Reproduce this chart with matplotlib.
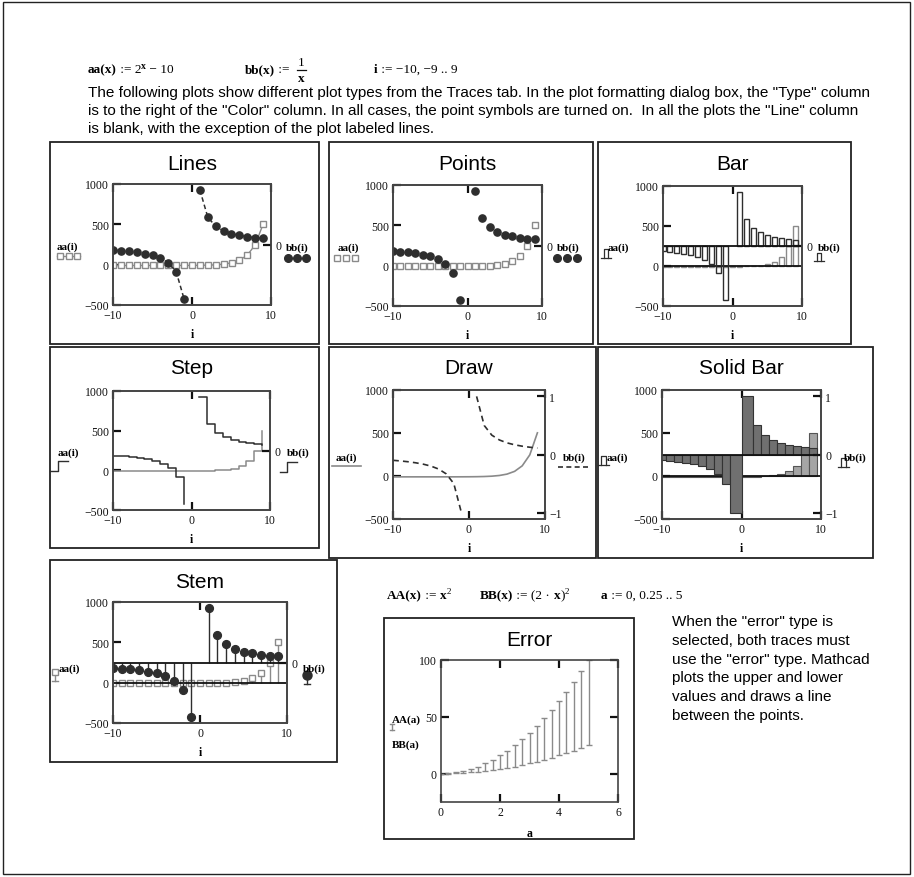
import numpy as np
import matplotlib.pyplot as plt
from matplotlib.patches import Rectangle
from matplotlib.lines import Line2D

plt.rcParams['font.family'] = 'Liberation Serif'

# i := -10, -9 .. 9 ; aa(i) = 2^i - 10 ; bb(i) = 1/i
i = np.array([-10, -9, -8, -7, -6, -5, -4, -3, -2, -1, 0, 1, 2, 3, 4, 5, 6, 7, 8, 9])
aa = np.array([-9.999, -9.998, -9.996, -9.992, -9.984, -9.969, -9.938, -9.875, -9.75, -9.5,
               -9, -8, -6, -2, 6, 22, 54, 118, 246, 502])
bb = np.array([-0.1, -0.111, -0.125, -0.143, -0.167, -0.2, -0.25, -0.333, -0.5, -1,
               np.nan, 1, 0.5, 0.333, 0.25, 0.2, 0.167, 0.143, 0.125, 0.111])

# a := 0, 0.25 .. 5 ; AA(a) = a^2 ; BB(a) = (2a)^2
a = np.array([0, 0.25, 0.5, 0.75, 1, 1.25, 1.5, 1.75, 2, 2.25, 2.5, 2.75, 3, 3.25, 3.5,
              3.75, 4, 4.25, 4.5, 4.75, 5])
AA = np.array([0, 0.0625, 0.25, 0.5625, 1, 1.5625, 2.25, 3.0625, 4, 5.0625, 6.25, 7.5625,
               9, 10.5625, 12.25, 14.0625, 16, 18.0625, 20.25, 22.5625, 25])
BB = np.array([0, 0.25, 1, 2.25, 4, 6.25, 9, 12.25, 16, 20.25, 25, 30.25, 36, 42.25, 49,
               56.25, 64, 72.25, 81, 90.25, 100])

W, H = 914, 878
GRAY = '#8a8a8a'
DARK = '#2e2e2e'
SANS = 'Liberation Sans'

fig = plt.figure(figsize=(W / 100, H / 100), dpi=100)
overlay = fig.add_axes([0, 0, 1, 1])
overlay.set_axis_off()


def px_axes(x0, y0, x1, y1):
    return fig.add_axes([x0 / W, 1 - y1 / H, (x1 - x0) / W, (y1 - y0) / H])


def box(x0, y0, x1, y1, lw=1.3):
    fig.add_artist(Rectangle((x0 / W, 1 - y1 / H), (x1 - x0) / W, (y1 - y0) / H,
                             transform=fig.transFigure, fill=False, lw=lw, ec='#222'))


def ftext(x, y, s, **kw):
    kw.setdefault('ha', 'center')
    kw.setdefault('va', 'center')
    return fig.text(x / W, 1 - y / H, s, **kw)


def glyph(xs, ys, **kw):
    fig.add_artist(Line2D(np.array(xs) / W, 1 - np.array(ys) / H,
                          transform=fig.transFigure, **kw))


def eq(x, y, parts, size=9.5):
    # Mathcad-like equation: pieces placed one after another on a shared baseline
    s0, kw0 = parts[0]
    base = last = overlay.text(x / W, 1 - y / H, s0, size=size, ha='left', va='bottom', **kw0)
    for s, kw in parts[1:]:
        kw = dict(kw)
        up = kw.pop('up', None)
        sz = kw.pop('size', size)
        t = overlay.annotate(s, xy=(1, 0 if up is None else up), xycoords=(last, base),
                             ha='left', va='bottom', size=sz, **kw)
        if up is None:
            base = t
        last = t
    return last


B = {'weight': 'bold'}


def style(axis):
    axis.tick_params(direction='in', length=6, width=1.6, colors='#111',
                     labelsize=8.5, pad=3)
    for s in axis.spines.values():
        s.set_linewidth(1.2)
        s.set_edgecolor('#444')


def panel(bx, ax_px, title, rticks=(0,)):
    box(*bx)
    x0, y0, x1, y1 = ax_px
    ax = px_axes(*ax_px)
    ax.set_xlim(-10, 10)
    ax.set_ylim(-500, 1000)
    ax.set_xticks([-10, 0, 10])
    ax.set_yticks([-500, 0, 500, 1000])
    ax2 = ax.twinx()
    ax2.set_ylim(-1.11, 1.11)
    ax2.set_yticks(list(rticks))
    style(ax)
    style(ax2)
    ax.tick_params(axis='x', top=True)
    ftext((x0 + x1) / 2, bx[1] + 21, title, family=SANS, size=15)
    ftext((x0 + x1) / 2, y1 + 29, 'i', weight='bold', size=8.5)
    return ax, ax2


def bar_edges(x, y):
    left = x - 0.5
    right = x + 0.5
    gap = np.isnan(y)
    left[1:][gap[:-1]] -= 0.5
    right[:-1][gap[1:]] += 0.5
    return left, right - left


ok = ~np.isnan(bb)
neg = i < 0
pos = i > 0

# outer frame
box(3, 3, 910, 875, lw=1)

# header
eq(88, 76, [('aa(x)', B), (' := 2', {}), ('x', dict(B, up=0.45, size=7)), (' \u2212 10', {})])
eq(245, 76, [('bb(x)', B), (' :=', {})])
ftext(301, 63, '1', size=9.5)
glyph([296.5, 305.5], [71, 71], color='#111', lw=0.9)
ftext(301, 79, 'x', size=9.5, weight='bold')
eq(374, 76, [('i', B), (' := \u221210, \u22129 .. 9', {})])
para = ['The following plots show different plot types from the Traces tab. In the plot formatting dialog box, the "Type" column',
        'is to the right of the "Color" column. In all cases, the point symbols are turned on.  In all the plots the "Line" column',
        'is blank, with the exception of the plot labeled lines.']
for k, line in enumerate(para):
    ftext(88, 93 + 18 * k, line, family=SANS, size=11, ha='left')

# ---- Lines
ax, ax2 = panel((50, 143, 319, 345), (113, 185, 271, 306), 'Lines')
ax.plot(i, aa, color=GRAY, lw=1, marker='s', ms=4.6, mfc='white', mec=GRAY)
ax2.plot(i, bb, color=DARK, lw=1.1, ls=(0, (3, 2)), marker='o', ms=5.2, mfc=DARK, mec=DARK)
ftext(67, 247, 'aa(i)', weight='bold', size=8)
glyph([57, 80], [257, 257], color=GRAY, lw=1)
glyph([60, 68.5, 77], [257] * 3, ls='none', marker='s', ms=4.6, mfc='white', mec=GRAY)
ftext(297, 248, 'bb(i)', weight='bold', size=8)
glyph([288, 297, 306], [259] * 3, ls='none', marker='o', ms=5.5, color=DARK)

# ---- Points
ax, ax2 = panel((329, 143, 593, 345), (393, 186, 542, 307), 'Points')
ax.plot(i, aa, ls='none', marker='s', ms=4.6, mfc='white', mec=GRAY)
ax2.plot(i, bb, ls='none', marker='o', ms=5.2, color=DARK)
ftext(348, 248, 'aa(i)', weight='bold', size=8)
glyph([337, 346, 355], [259] * 3, ls='none', marker='s', ms=4.6, mfc='white', mec=GRAY)
ftext(568, 248, 'bb(i)', weight='bold', size=8)
glyph([557, 567, 577], [259] * 3, ls='none', marker='o', ms=5.5, color=DARK)

# ---- Bar
ax, ax2 = panel((598, 143, 851, 345), (663, 187, 802, 307), 'Bar')
ax.bar(i, aa, width=0.72, facecolor='none', edgecolor=GRAY, lw=1)
ax.axhline(0, color='#111', lw=1.3)
ax2.bar(i[ok], bb[ok], width=0.72, facecolor='none', edgecolor=DARK, lw=1)
ax2.axhline(0, color='#111', lw=1.3)
ftext(618, 248, 'aa(i)', weight='bold', size=8)
glyph([604, 604, 608, 608], [259, 250, 250, 259], color=DARK, lw=0.9)
glyph([601, 611], [259, 259], color=DARK, lw=0.9)
ftext(829, 248, 'bb(i)', weight='bold', size=8)
glyph([817, 817, 821, 821], [262, 254, 254, 262], color=DARK, lw=0.9)
glyph([814, 824], [262, 262], color=DARK, lw=0.9)

# ---- Step
ax, ax2 = panel((50, 348, 319, 549), (113, 392, 270, 511), 'Step')
ax.step(i, aa, where='post', color=GRAY, lw=1.1)
ax2.step(i[neg], bb[neg], where='post', color=DARK, lw=1.1)
ax2.step(i[pos], bb[pos], where='post', color=DARK, lw=1.1)
ftext(68, 453, 'aa(i)', weight='bold', size=8)
glyph([50, 58, 58, 68], [472, 472, 462, 462], color=DARK, lw=1)
ftext(298, 453, 'bb(i)', weight='bold', size=8)
glyph([280, 287, 287, 297], [473, 473, 463, 463], color=DARK, lw=1)

# ---- Draw
ax, ax2 = panel((329, 348, 596, 559), (393, 391, 545, 520), 'Draw', rticks=(-1, 0, 1))
ax.plot(i, aa, color=GRAY, lw=1.2)
ax2.plot(i, bb, color=DARK, lw=1.2, ls=(0, (3.5, 2.5)))
ftext(346, 458, 'aa(i)', weight='bold', size=8)
glyph([332, 361], [467, 467], color=GRAY, lw=1.2)
ftext(574, 458, 'bb(i)', weight='bold', size=8)
glyph([558, 590], [468, 468], color=DARK, lw=1.2, ls=(0, (3, 2)))

# ---- Solid Bar
ax, ax2 = panel((598, 348, 873, 559), (662, 391, 821, 520), 'Solid Bar', rticks=(-1, 0, 1))
ax.bar(i, aa, width=1, color='#a5a5a5', edgecolor='#555', lw=0.8)
ax.axhline(0, color='#111', lw=1.3)
bl, bw = bar_edges(i.astype(float), bb)
ax2.bar(bl[ok], bb[ok], width=bw[ok], align='edge', color='#707070', edgecolor='#333', lw=0.8)
ax2.axhline(0, color='#111', lw=1.3)
ftext(617, 458, 'aa(i)', weight='bold', size=8)
glyph([601, 601, 606, 606], [466, 457, 457, 466], color=DARK, lw=0.9)
glyph([598, 609], [466, 466], color=DARK, lw=0.9)
ftext(855, 458, 'bb(i)', weight='bold', size=8)
glyph([841, 841, 846, 846], [468, 459, 459, 468], color=DARK, lw=0.9)
glyph([838, 849], [468, 468], color=DARK, lw=0.9)

# ---- Stem
ax, ax2 = panel((50, 561, 337, 763), (113, 603, 287, 724), 'Stem')
ax.vlines(i, 0, aa, color=GRAY, lw=1)
ax.plot(i, aa, ls='none', marker='s', ms=5, mfc='white', mec=GRAY)
ax.axhline(0, color='#111', lw=1.3)
ax2.vlines(i[ok], 0, bb[ok], color=DARK, lw=1)
ax2.plot(i, bb, ls='none', marker='o', ms=5.6, color=DARK)
ax2.axhline(0, color='#111', lw=1.3)
ftext(69, 669, 'aa(i)', weight='bold', size=8)
glyph([55, 55], [673, 682], color=GRAY, lw=1)
glyph([52, 58], [682, 682], color=GRAY, lw=1)
glyph([55], [673], ls='none', marker='s', ms=4.5, mfc='white', mec=GRAY)
ftext(314, 669, 'bb(i)', weight='bold', size=8)
glyph([307, 307], [676, 685], color=DARK, lw=1)
glyph([304, 310], [685, 685], color=DARK, lw=1)
glyph([307], [676], ls='none', marker='o', ms=6.5, color=DARK)

# ---- Error
eq(387, 602, [('AA(x)', B), (' := ', {}), ('x', B), ('2', dict(up=0.5, size=6.5))])
eq(480, 602, [('BB(x)', B), (' := (2 \u00b7 ', {}), ('x', B), (')', {}), ('2', dict(up=0.5, size=6.5))])
eq(601, 602, [('a', B), (' := 0, 0.25 .. 5', {})])
box(384, 619, 634, 840)
ax = px_axes(441, 661, 618, 803)
ax.set_xlim(0, 6)
ax.set_ylim(-25, 100)
ax.set_xticks([0, 2, 4, 6])
ax.set_yticks([0, 50, 100])
style(ax)
ax.tick_params(top=True, right=True)
ax.errorbar(a, AA, yerr=[np.zeros_like(AA), BB - AA], fmt='none', ecolor=GRAY,
            elinewidth=1, capsize=2, capthick=1)
ftext(529.5, 640, 'Error', family=SANS, size=15)
ftext(529.5, 834, 'a', weight='bold', size=8.5)
ftext(406, 720, 'AA(a)', weight='bold', size=8)
glyph([392, 392], [725, 731], color=GRAY, lw=1)
glyph([390, 394], [725, 725], color=GRAY, lw=1)
glyph([390, 394], [731, 731], color=GRAY, lw=1)
ftext(406, 745, 'BB(a)', weight='bold', size=8)

note = ['When the "error" type is', 'selected, both traces must',
        'use the "error" type. Mathcad', 'plots the upper and lower',
        'values and draws a line', 'between the points.']
for k, line in enumerate(note):
    ftext(672, 622 + 18.8 * k, line, family=SANS, size=11, ha='left')

fig.savefig('out.png', dpi=100)
